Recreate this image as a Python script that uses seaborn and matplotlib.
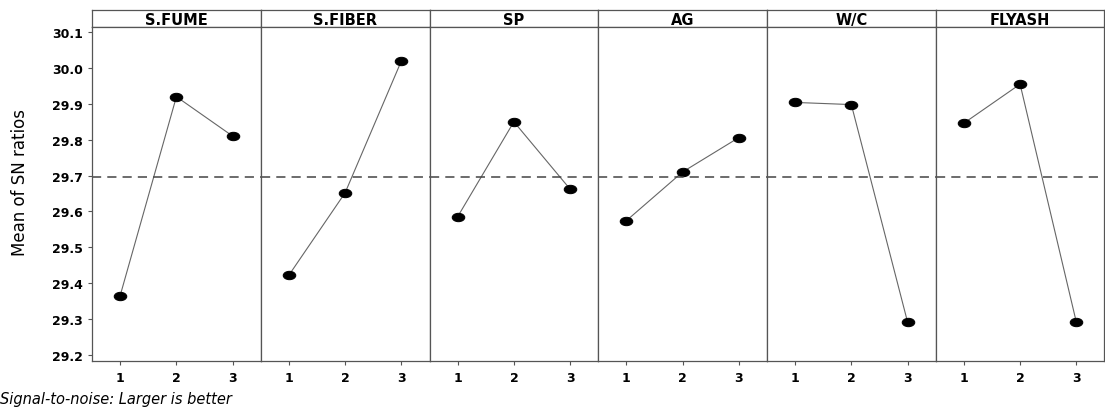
import numpy as np
import pandas as pd
import matplotlib
matplotlib.use("Agg")
import matplotlib.pyplot as plt
from matplotlib.path import Path
from matplotlib.transforms import Affine2D
import seaborn as sns

# dados (Main Effects Plot for SN ratios)
fatores = ["S.FUME", "S.FIBER", "SP", "AG", "W/C", "FLYASH"]
niveis = [1, 2, 3]
sfume = [29.365, 29.920, 29.810]
sfiber = [29.422, 29.652, 30.020]
sp = [29.585, 29.850, 29.662]
ag = [29.574, 29.710, 29.806]
wc = [29.904, 29.898, 29.291]
flyash = [29.846, 29.955, 29.291]
media_geral = 29.695
yticks = [29.2, 29.3, 29.4, 29.5, 29.6, 29.7, 29.8, 29.9, 30.0, 30.1]

valores = [sfume, sfiber, sp, ag, wc, flyash]
tabela = pd.DataFrame({
    "fator": np.repeat(fatores, len(niveis)),
    "nivel": niveis * len(fatores),
    "sn": np.concatenate(valores),
})

sns.set_style("white")
plt.rcParams["font.family"] = ["DejaVu Sans"]
plt.rcParams["text.color"] = "black"
plt.rcParams["xtick.color"] = "black"
plt.rcParams["ytick.color"] = "black"

fig = plt.figure(figsize=(11.05, 4.14), dpi=100)
gs = fig.add_gridspec(2, 6, height_ratios=[17, 334], left=0.0833, right=0.9995,
                      top=0.973, bottom=0.126, wspace=0, hspace=0)

# marcador eliptico (a imagem original esta esticada)
elipse = Path.unit_circle().transformed(Affine2D().scale(1.5, 1.0))
cor_borda = "#555555"

eixo0 = None
for i, fator in enumerate(fatores):
    cab = fig.add_subplot(gs[0, i])
    cab.set_xticks([])
    cab.set_yticks([])
    cab.text(0.5, 0.45, fator, ha="center", va="center", fontsize=10.5,
             fontweight="bold", color="black", transform=cab.transAxes)
    for s in cab.spines.values():
        s.set_color(cor_borda)
        s.set_linewidth(0.9)

    ax = fig.add_subplot(gs[1, i], sharey=eixo0)
    if eixo0 is None:
        eixo0 = ax
    dados = tabela[tabela["fator"] == fator]
    sns.lineplot(data=dados, x="nivel", y="sn", ax=ax, color="#666666",
                 linewidth=0.8, marker=elipse, markersize=9,
                 markerfacecolor="black", markeredgecolor="black")
    ax.axhline(media_geral, color="#444444", linestyle=(0, (6, 4)), linewidth=1.1)
    ax.set_xlim(0.5, 3.5)
    ax.set_ylim(29.183, 30.114)
    ax.set_xticks(niveis)
    ax.set_xticklabels([str(n) for n in niveis], fontsize=9, fontweight="bold")
    ax.set_xlabel("")
    ax.set_ylabel("")
    ax.tick_params(axis="x", length=3, width=0.8, color=cor_borda, pad=4, bottom=True)
    for s in ax.spines.values():
        s.set_color(cor_borda)
        s.set_linewidth(0.9)
    if i == 0:
        ax.set_yticks(yticks)
        ax.set_yticklabels([f"{v:.1f}" for v in yticks], fontsize=9, fontweight="bold")
        ax.tick_params(axis="y", length=3, width=0.8, color=cor_borda, left=True)
    else:
        ax.tick_params(axis="y", left=False, labelleft=False)

fig.text(0.018, 0.558, "Mean of SN ratios", rotation=90, ha="center", va="center",
         fontsize=12, color="black")
fig.text(0.0, 0.018, "Signal-to-noise: Larger is better", ha="left", va="bottom",
         fontsize=10.5, style="italic", color="black")

fig.savefig("out.png", dpi=100)
